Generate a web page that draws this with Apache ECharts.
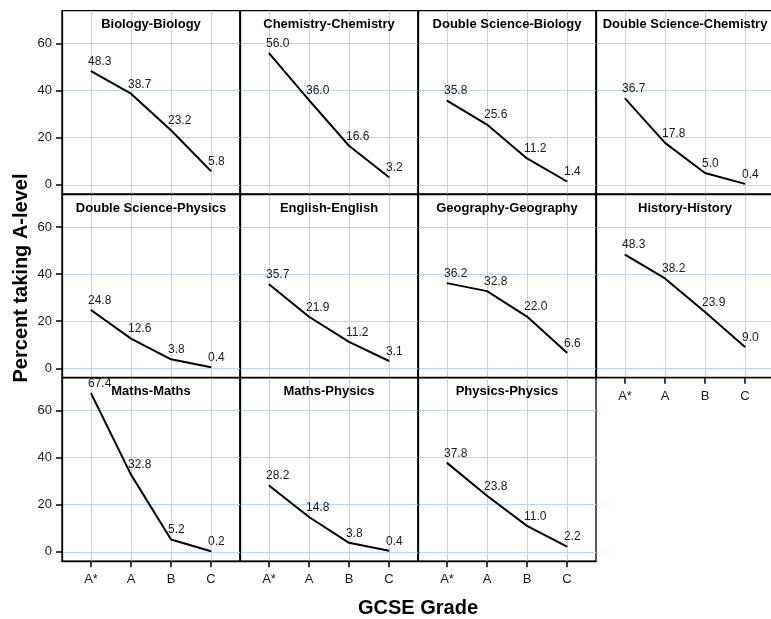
<!DOCTYPE html>
<html>
<head>
<meta charset="utf-8">
<script src="https://cdn.jsdelivr.net/npm/echarts@6/dist/echarts.min.js"></script>
<style>html,body{margin:0;padding:0;background:#fff}#c{width:771px;height:619px}</style>
</head>
<body>
<div id="c"></div>
<script>
var GRADES = ['A*', 'A', 'B', 'C'];
var PANELS = ['Biology-Biology', 'Chemistry-Chemistry', 'Double Science-Biology', 'Double Science-Chemistry',
  'Double Science-Physics', 'English-English', 'Geography-Geography', 'History-History',
  'Maths-Maths', 'Maths-Physics', 'Physics-Physics'];
var biologyVals = [48.3, 38.7, 23.2, 5.8];
var chemistryVals = [56.0, 36.0, 16.6, 3.2];
var dsBiologyVals = [35.8, 25.6, 11.2, 1.4];
var dsChemistryVals = [36.7, 17.8, 5.0, 0.4];
var dsPhysicsVals = [24.8, 12.6, 3.8, 0.4];
var englishVals = [35.7, 21.9, 11.2, 3.1];
var geographyVals = [36.2, 32.8, 22.0, 6.6];
var historyVals = [48.3, 38.2, 23.9, 9.0];
var mathsVals = [67.4, 32.8, 5.2, 0.2];
var mathsPhysicsVals = [28.2, 14.8, 3.8, 0.4];
var physicsVals = [37.8, 23.8, 11.0, 2.2];
var Y_TICKS = [0, 20, 40, 60];
var SERIES_VALUES = [biologyVals, chemistryVals, dsBiologyVals, dsChemistryVals, dsPhysicsVals, englishVals,
  geographyVals, historyVals, mathsVals, mathsPhysicsVals, physicsVals];

var chart = echarts.init(document.getElementById('c'));
var L0 = 62, T0 = 10.7, PW = 178, PH = 183.5;
var GRIDC = '#b8d6f2';
var FONT = 'Liberation Sans, Arial, Helvetica, sans-serif';
var grids = [], xAxes = [], yAxes = [], series = [], graphics = [];
var xIdx = GRADES.map(function (g, i) { return i; });

PANELS.forEach(function (name, i) {
  var r = Math.floor(i / 4), c = i % 4;
  var showX = (i >= 7);
  var showY = (c === 0);
  grids.push({ left: L0 + PW * c, top: T0 + PH * r, width: PW, height: PH, outerBoundsMode: 'none',
    show: true, borderColor: '#000', borderWidth: 1.3, backgroundColor: 'transparent', containLabel: false });
  xAxes.push({
    type: 'value', gridIndex: i, min: -0.725, max: 3.725, position: 'bottom',
    axisLine: { show: true, onZero: false, lineStyle: { color: '#000', width: 1.3 } },
    axisTick: { show: showX, inside: false, customValues: xIdx, length: 6, lineStyle: { color: '#000', width: 1.5 } },
    axisLabel: { show: showX, customValues: xIdx, margin: 12, fontSize: 13, color: '#1a1a1a', fontFamily: FONT,
      formatter: function (v) { return GRADES[Math.round(v)]; } },
    splitLine: { show: true, lineStyle: { color: GRIDC, width: 1 } }
  });
  yAxes.push({
    type: 'value', gridIndex: i, min: -4, max: 74, position: 'left',
    axisLine: { show: true, onZero: false, lineStyle: { color: '#000', width: 1.3 } },
    axisTick: { show: showY, inside: false, customValues: Y_TICKS, length: 6, lineStyle: { color: '#000', width: 1.5 } },
    axisLabel: { show: showY, customValues: Y_TICKS, margin: 10, fontSize: 13, color: '#1a1a1a', fontFamily: FONT },
    splitLine: { show: true, lineStyle: { color: GRIDC, width: 1 } }
  });
  series.push({
    type: 'line', xAxisIndex: i, yAxisIndex: i,
    data: SERIES_VALUES[i].map(function (v, k) { return [k, v]; }),
    symbol: 'circle', symbolSize: 1, showSymbol: true,
    itemStyle: { color: '#000' },
    lineStyle: { color: '#000', width: 2 },
    label: { show: true, position: 'top', distance: 3, align: 'left', offset: [-3, 0],
      fontSize: 12, color: '#1a1a1a', fontFamily: FONT,
      formatter: function (p) { return p.value[1].toFixed(1); } },
    animation: false, silent: true
  });
  graphics.push({
    type: 'text', x: L0 + PW * c + PW / 2, y: T0 + PH * r + 14,
    style: { text: name, fill: '#000', font: 'bold 13px ' + FONT, textAlign: 'center', textVerticalAlign: 'middle' },
    z: 10
  });
});

graphics.push({
  type: 'text', x: 418, y: 608,
  style: { text: 'GCSE Grade', fill: '#000', font: 'bold 20px ' + FONT, textAlign: 'center', textVerticalAlign: 'middle' }
});
graphics.push({
  type: 'text', x: 21, y: 278, rotation: Math.PI / 2,
  style: { text: 'Percent taking A-level', fill: '#000', font: 'bold 20px ' + FONT, textAlign: 'center', textVerticalAlign: 'middle' }
});

chart.setOption({
  animation: false,
  grid: grids, xAxis: xAxes, yAxis: yAxes, series: series,
  graphic: graphics
});
</script>
</body>
</html>
